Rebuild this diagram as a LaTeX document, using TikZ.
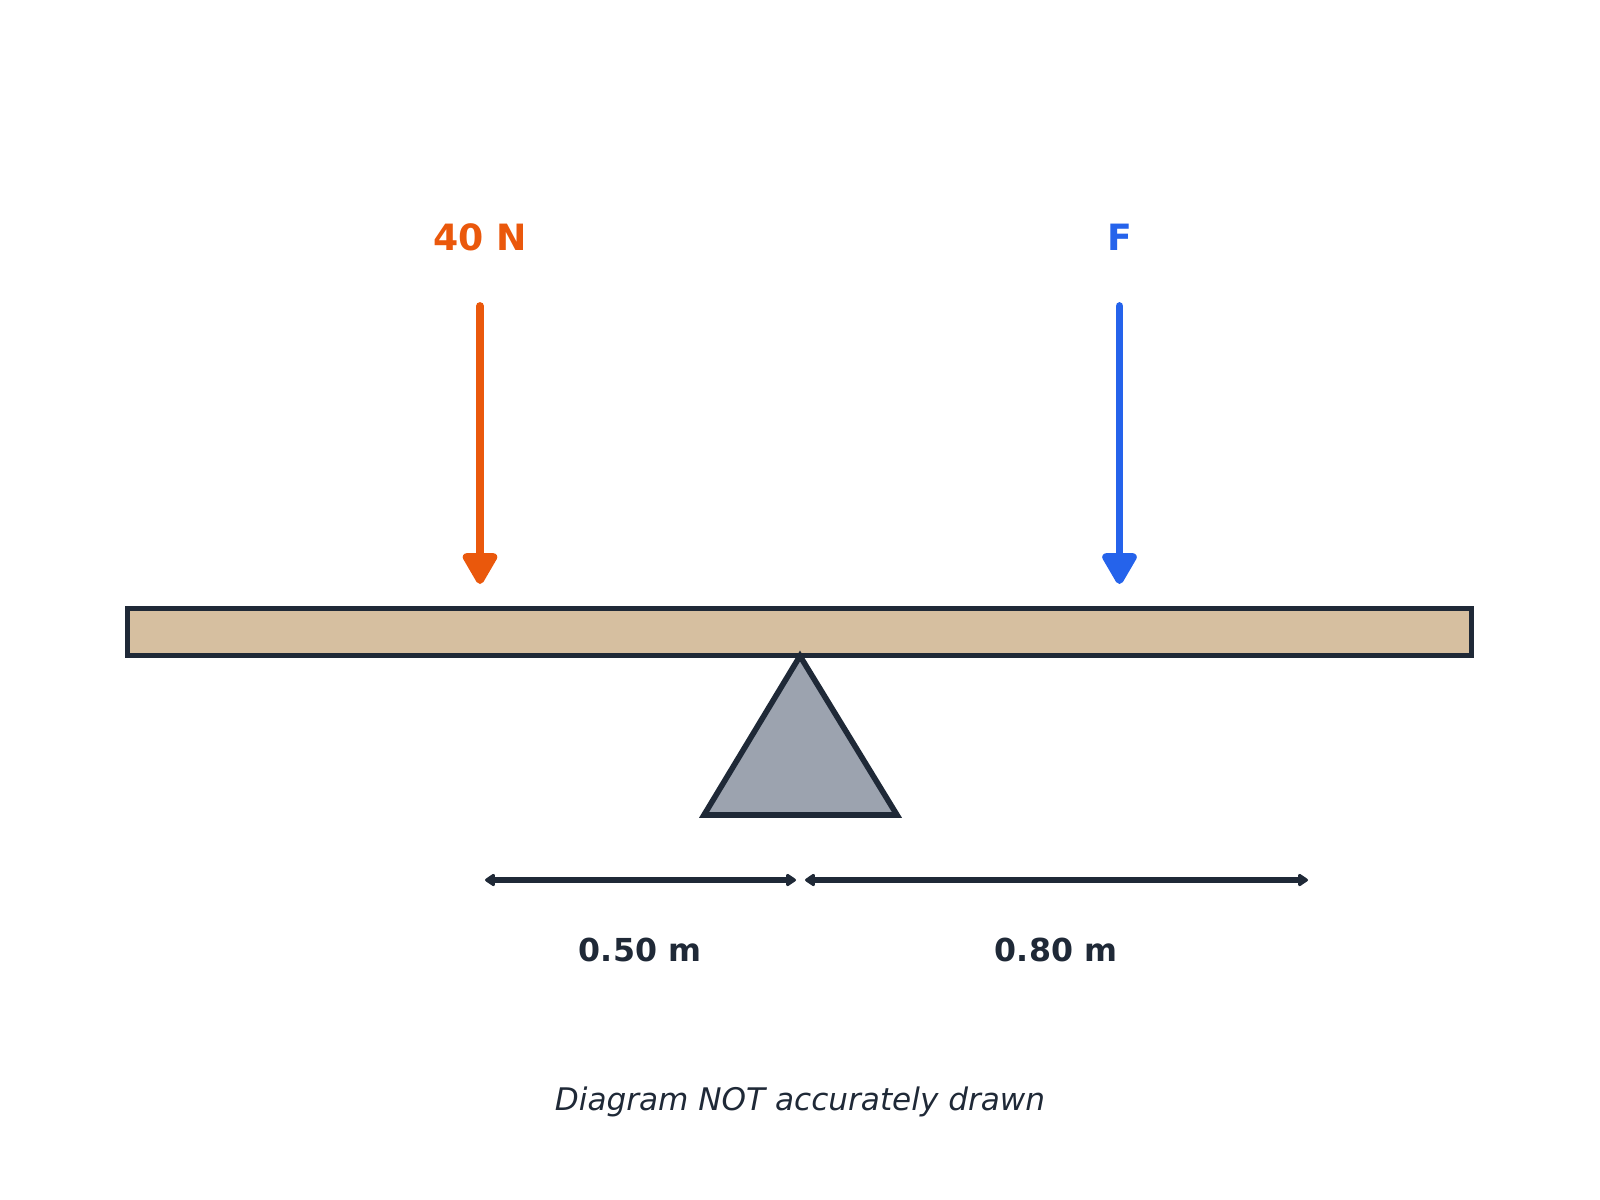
\documentclass[tikz,border=0pt]{standalone}
\usepackage{fontspec}
\setmainfont{DejaVu Sans}
\usetikzlibrary{arrows.meta}

\definecolor{loadorange}{HTML}{EA580C}
\definecolor{forceblue}{HTML}{2563EB}
\definecolor{inkdark}{HTML}{1F2937}
\definecolor{plankwood}{HTML}{D6BFA0}
\definecolor{pivotgray}{HTML}{9CA3AF}

\tikzset{
  force/.style={line width=2.2pt, line cap=round, -{Triangle[width=3.8mm, length=3.5mm, round]}},
  dimline/.style={draw=inkdark, line width=1.5pt, {Triangle[length=1.1mm, width=1.4mm, round]}-{Triangle[length=1.1mm, width=1.4mm, round]}},
  forcelabel/.style={font=\fontsize{10.3}{12}\selectfont\bfseries},
  dimlabel/.style={font=\fontsize{9}{11}\selectfont\bfseries, text=inkdark}
}

\begin{document}
\begin{tikzpicture}[x=0.01cm, y=-0.01cm]
    % Fix picture size
    \useasboundingbox (0,0) rectangle (1600,1200);

    % Set positions
    \pgfmathsetmacro{\loadx}{480}
    \pgfmathsetmacro{\effx}{1119.5}
    \pgfmathsetmacro{\pivotx}{800}

    % Draw beam
    \node[draw=inkdark, fill=plankwood, line width=1.6pt, inner sep=0pt,
          minimum width=13.43cm, minimum height=0.47cm] at (799.5, 632) (beam) {};

    % Draw pivot triangle
    \coordinate (apex) at (\pivotx, 656);
    \coordinate (baseleft) at (704, 815);
    \coordinate (baseright) at (897, 815);
    \draw[draw=inkdark, fill=pivotgray, line width=1.6pt, line join=miter] (apex) -- (baseleft) -- (baseright) -- cycle;

    % Draw forces and labels
    \node[forcelabel, text=loadorange] at (\loadx, 237) (loadlabel) {40 N};
    \node[forcelabel, text=forceblue] at (\effx, 237) (efflabel) {F};
    \coordinate (loadtop) at (\loadx, 306);
    \coordinate (loadtip) at (\loadx, 584);
    \coordinate (efftop) at (\effx, 306);
    \coordinate (efftip) at (\effx, 584);
    \draw[force, loadorange] (loadtop) -- (loadtip);
    \draw[force, forceblue] (efftop) -- (efftip);

    % Draw distances
    \coordinate (dimleft) at (485, 880);
    \coordinate (dimmidl) at (796, 880);
    \coordinate (dimmidr) at (805, 880);
    \coordinate (dimright) at (1308, 880);
    \draw[dimline] (dimleft) -- (dimmidl);
    \draw[dimline] (dimmidr) -- (dimright);
    \node[dimlabel] at (640, 950) (leftdist) {0.50 m};
    \node[dimlabel] at (1056, 950) (rightdist) {0.80 m};

    % Caption
    \node[font=\fontsize{8.85}{11}\selectfont\itshape, text=inkdark] at (800, 1102) (caption) {Diagram NOT accurately drawn};
\end{tikzpicture}
\end{document}
